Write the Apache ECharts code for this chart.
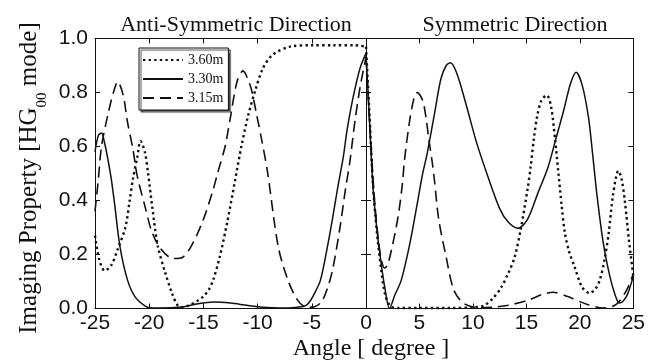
<!DOCTYPE html>
<html><head><meta charset="utf-8">
<script src="https://cdn.jsdelivr.net/npm/echarts@6/dist/echarts.min.js"></script>
<style>html,body{margin:0;padding:0;background:#fff}#c{width:648px;height:361px}</style>
</head><body><div id="c"></div>
<script>
// Legend names
const names = ['3.60m', '3.30m', '3.15m'];
// Panel titles and axis titles
const titleLeft = 'Anti-Symmetric Direction';
const titleRight = 'Symmetric Direction';
const xTitle = 'Angle [ degree ]';

// 3.60m (dotted) — [angle, value]
const d360Left = [[-25,0.27],[-24.6,0.18],[-24.1,0.14],[-23.5,0.16],[-22.9,0.22],[-22.2,0.30],[-21.8,0.40],[-21.5,0.48],[-21.1,0.56],[-20.8,0.62],[-20.4,0.58],[-20.1,0.50],[-19.7,0.37],[-19.2,0.23],[-18.5,0.13],[-17.9,0.057],[-17.4,0.013],[-17.0,0.005],[-16.3,0.012],[-15.5,0.03],[-15.0,0.045],[-14.5,0.07],[-14.1,0.105],[-13.5,0.19],[-12.8,0.32],[-12.1,0.47],[-11.5,0.60],[-10.9,0.71],[-10.2,0.81],[-9.5,0.89],[-8.6,0.94],[-7.0,0.97],[-5,0.975],[-3,0.975],[-1,0.975],[0,0.97]];
const d360Right = [[0,0.97],[0.3,0.74],[0.65,0.46],[1.0,0.29],[1.4,0.15],[1.8,0.05],[2.3,0.008],[3,0.002],[5,0.002],[8,0.002],[10,0.004],[11,0.01],[11.8,0.035],[12.6,0.075],[13.3,0.13],[13.9,0.19],[14.5,0.30],[15.1,0.44],[15.4,0.525],[15.7,0.63],[16.0,0.71],[16.4,0.77],[16.9,0.79],[17.3,0.75],[17.7,0.62],[18.0,0.50],[18.3,0.38],[18.6,0.28],[19.0,0.21],[19.5,0.155],[20.2,0.08],[20.9,0.057],[21.5,0.075],[21.9,0.11],[22.3,0.18],[22.7,0.28],[23.1,0.42],[23.6,0.51],[23.9,0.48],[24.2,0.40],[24.6,0.25],[25,0.12]];

// 3.30m (solid)
const d330Left = [[-25,0.58],[-24.7,0.64],[-24.4,0.65],[-24.1,0.61],[-23.8,0.55],[-23.5,0.48],[-23.2,0.39],[-22.7,0.23],[-22.0,0.105],[-21.3,0.043],[-20.4,0.01],[-19.8,0.002],[-19,0.002],[-17,0.006],[-15.5,0.018],[-14,0.024],[-12.5,0.02],[-11,0.012],[-9.5,0.005],[-8,0.002],[-6.5,0.004],[-5.6,0.01],[-5.2,0.025],[-4.7,0.06],[-4.2,0.105],[-3.6,0.22],[-3.1,0.33],[-2.6,0.45],[-2.1,0.56],[-1.75,0.66],[-1.2,0.78],[-0.55,0.89],[0,0.945]];
const d330Right = [[0,0.945],[0.3,0.72],[0.65,0.45],[1.0,0.30],[1.3,0.20],[1.75,0.08],[2.2,0.0],[2.7,0.05],[3.3,0.105],[4.1,0.24],[4.8,0.39],[5.3,0.50],[5.7,0.57],[6.4,0.72],[7.0,0.85],[7.5,0.90],[7.9,0.91],[8.5,0.87],[9.4,0.75],[10.3,0.62],[11.3,0.50],[12.5,0.37],[13.3,0.32],[14.2,0.297],[15.1,0.33],[16.1,0.43],[17.0,0.52],[17.7,0.62],[18.5,0.735],[19.1,0.83],[19.65,0.875],[20.2,0.83],[20.8,0.71],[21.2,0.57],[21.6,0.42],[22.2,0.24],[22.8,0.12],[23.3,0.05],[23.7,0.02],[24.1,0.03],[24.5,0.057],[25,0.12]];

// 3.15m (dashed)
const d315Left = [[-25,0.36],[-24.7,0.475],[-24.4,0.60],[-23.8,0.72],[-23.3,0.80],[-22.9,0.84],[-22.4,0.79],[-22.0,0.69],[-21.5,0.59],[-21.1,0.49],[-20.4,0.38],[-19.8,0.29],[-19.0,0.225],[-17.8,0.185],[-16.9,0.19],[-16.0,0.24],[-15.0,0.33],[-14.1,0.44],[-13.7,0.50],[-13.0,0.60],[-12.5,0.71],[-11.9,0.84],[-11.35,0.88],[-10.8,0.84],[-10.5,0.80],[-10.1,0.72],[-9.6,0.62],[-9.1,0.51],[-8.1,0.23],[-7.2,0.105],[-6.3,0.03],[-5.5,0.005],[-4.8,0.006],[-4.1,0.025],[-3.6,0.07],[-3.1,0.14],[-2.4,0.30],[-1.9,0.44],[-1.5,0.54],[-1.0,0.70],[-0.5,0.83],[0,0.93]];
const d315Right = [[0,0.93],[0.4,0.65],[0.8,0.40],[1.2,0.24],[1.5,0.17],[1.75,0.15],[2.0,0.16],[2.4,0.22],[3.0,0.34],[3.4,0.46],[3.6,0.55],[4.1,0.70],[4.5,0.78],[4.8,0.80],[5.3,0.77],[5.6,0.71],[5.9,0.62],[6.2,0.54],[6.4,0.475],[6.8,0.33],[7.5,0.19],[8.2,0.07],[9.1,0.02],[10.5,0.003],[12,0.005],[13.3,0.012],[15.1,0.03],[16.5,0.052],[17.5,0.06],[18.8,0.045],[20.7,0.015],[22.2,0.002],[23.4,0.015],[24.4,0.07],[25,0.13]];

const INK = '#111';
const SANS = 'Liberation Sans';
const SERIF = 'Liberation Serif';
const styles = [
  {type: [2.4, 3.2], width: 2.4, cap: 'butt'},
  {type: 'solid', width: 1.5},
  {type: [11, 6], width: 1.6}
];
const dataL = [d360Left, d330Left, d315Left];
const dataR = [d360Right, d330Right, d315Right];

const axisLine = {show: true, onZero: false, lineStyle: {color: INK, width: 1}};
const tick = {show: true, inside: true, length: 5, lineStyle: {color: INK, width: 1}};
function xAx(grid, pos, min, max, showLabel, hideMin) {
  return {type: 'value', gridIndex: grid, position: pos, min: min, max: max, interval: 5,
    axisLine: axisLine, axisTick: tick, splitLine: {show: false},
    axisLabel: {show: showLabel, showMinLabel: !hideMin, color: INK, fontFamily: SANS, fontSize: 21, margin: 4}};
}
function yAx(grid, pos, showLabel) {
  return {type: 'value', gridIndex: grid, position: pos, min: 0, max: 1, interval: 0.2,
    axisLine: axisLine, axisTick: tick, splitLine: {show: false},
    axisLabel: {show: showLabel, color: INK, fontFamily: SANS, fontSize: 21, margin: 7,
      formatter: v => v.toFixed(1)}};
}

const series = [];
for (let i = 0; i < 3; i++) {
  [dataL, dataR].forEach((d, g) => {
    series.push({
      type: 'line', name: names[i], xAxisIndex: g * 2, yAxisIndex: g * 2,
      data: d[i], symbol: 'none', showSymbol: false, smooth: 0.3, clip: true,
      lineStyle: Object.assign({color: INK}, styles[i]), itemStyle: {color: INK},
      emphasis: {disabled: true}, animation: false
    });
  });
}

const chart = echarts.init(document.getElementById('c'), null, {renderer: 'canvas'});
chart.setOption({
  backgroundColor: '#fff',
  animation: false,
  grid: [
    {left: 95, top: 38.5, width: 271, height: 270},
    {left: 366, top: 38.5, width: 271, height: 270}
  ],
  xAxis: [
    xAx(0, 'bottom', -25, 0, true, false),
    xAx(0, 'top', -25, 0, false, false),
    xAx(1, 'bottom', 0, 25, true, true),
    xAx(1, 'top', 0, 25, false, false)
  ],
  yAxis: [
    yAx(0, 'left', true),
    yAx(0, 'right', false),
    yAx(1, 'left', false),
    yAx(1, 'right', false)
  ],
  legend: {
    data: names, orient: 'vertical', left: 139, top: 48,
    padding: [5, 5, 5, 3], itemGap: 5, itemWidth: 40, itemHeight: 14,
    backgroundColor: '#fff', borderColor: INK, borderWidth: 1,
    shadowColor: 'rgba(0,0,0,0.7)', shadowBlur: 1, shadowOffsetX: 2, shadowOffsetY: 2,
    itemStyle: {color: 'rgba(0,0,0,0)', borderWidth: 0, opacity: 0},
    textStyle: {color: INK, fontFamily: SERIF, fontSize: 14},
    selectedMode: false
  },
  graphic: [
    {type: 'text', x: 236, y: 25, style: {text: titleLeft, font: '22px "Liberation Serif"', fill: INK, align: 'center', verticalAlign: 'middle'}},
    {type: 'text', x: 515, y: 25, style: {text: titleRight, font: '22px "Liberation Serif"', fill: INK, align: 'center', verticalAlign: 'middle'}},
    {type: 'text', x: 371, y: 349, style: {text: xTitle, font: '24px "Liberation Serif"', fill: INK, align: 'center', verticalAlign: 'middle'}},
    {type: 'text', x: 29, y: 178, rotation: Math.PI / 2,
      style: {text: '{a|Imaging Property [HG}{s|00}{a| mode]}', align: 'center', verticalAlign: 'middle',
        rich: {
          a: {fontFamily: SERIF, fontSize: 25, fill: INK, color: INK, verticalAlign: 'middle'},
          s: {fontFamily: SERIF, fontSize: 15, fill: INK, color: INK, verticalAlign: 'middle', padding: [26, 0, 0, 0]}
        }}}
  ],
  series: series
});
</script>
</body></html>
